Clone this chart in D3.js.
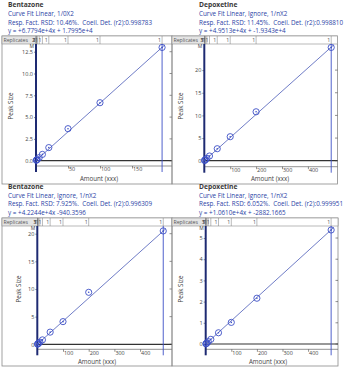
<!DOCTYPE html>
<html><head><meta charset="utf-8">
<script src="https://cdn.jsdelivr.net/npm/d3@7"></script>
<style>
html,body{margin:0;padding:0;background:#fff;}
svg{display:block;font-family:"Open Sans",sans-serif;}
</style></head><body>
<svg id="c" width="350" height="369"></svg>
<script>
// ---------- data ----------
const compoundNames = ["Bentazone", "Depoxetine", "Bentazone", "Depoxetine"];
const curveFitLabels = ["Curve Fit Linear, 1/0X2", "Curve Fit Linear, Ignore, 1/nX2", "Curve Fit Linear, Ignore, 1/nX2", "Curve Fit Linear, Ignore, 1/nX2"];
const rsdLabels = [
  "Resp. Fact. RSD: 10.46%.  Coeil. Det. (r2):0.998783",
  "Resp. Fact. RSD: 11.45%.  Coeil. Det. (r2):0.998810",
  "Resp. Fact. RSD: 7.925%.  Coell. Det. (r2):0.996309",
  "Resp. Fact. RSD: 6.052%.  Coeil. Det. (r2):0.999951"
];
const equationLabels = ["y = +6.7794e+4x + 1.7995e+4", "y = +4.9513e+4x + -1.9343e+4", "y = +4.2244e+4x -940.3596", "y = +1.0610e+4x + -2882.1665"];
const replicateCounts = ["2", "3", "3", "3"];

const amountsTL = [0.5, 1, 2, 5, 10, 20, 50, 100, 197];
const peakTL    = [0.05, 0.08, 0.15, 0.35, 0.72, 1.5, 3.67, 6.65, 12.99];
const amountsTR = [1, 2, 5, 10, 20, 50, 100, 200, 490];
const peakTR    = [0.06, 0.11, 0.27, 0.53, 1.04, 2.65, 5.3, 10.8, 25.0];
const amountsBL = [1, 2, 5, 10, 20, 50, 100, 200, 490];
const peakBL    = [0.03, 0.07, 0.2, 0.38, 0.8, 2.2, 4.1, 9.4, 20.5];
const amountsBR = [1, 2, 5, 10, 20, 50, 100, 200, 490];
const peakBR    = [0.01, 0.02, 0.05, 0.11, 0.22, 0.53, 1.02, 2.16, 5.38];

const fitSlopes = [0.0659, 0.0512, 0.0418, 0.0110];
const fitIntercepts = [0.018, -0.019, -0.001, -0.003];

const yTicksTL = [0, 2.5, 5, 7.5, 10, 12.5];
const yTicksTR = [0, 5, 10, 15, 20];
const yTicksBL = [0, 5, 10, 15, 20];
const yTicksBR = [0, 1, 2, 3, 4, 5];
const xTicksTL = [50, 100, 150];
const xTicksTR = [100, 200, 300, 400];
const xTicksBL = [100, 200, 300, 400];
const xTicksBR = [100, 200, 300, 400];
const yTickDecimals = [1, 0, 0, 0];
const unitLabel = "M";
const xAxisTitle = "Amount (xxx)";
const yAxisTitle = "Peak Size";
const replicatesLabel = "Replicates";

// ---------- layout ----------
const layouts = [
  {hx: 8,   hy: 7,     fx: 2,   fy: 36,  fb: 184, xr: [36, 172],    xd: [0, 212.5], yr: [166, 45],    yd: [-0.61, 13.27], px: 13,  py: 106, ax: 99,  ay: 180.5},
  {hx: 199, hy: 7,     fx: 172, fy: 36,  fb: 184, xr: [204.3, 337.5], xd: [0, 514.3], yr: [166.7, 45], yd: [-1.32, 25.54], px: 183, py: 106, ax: 270, ay: 180.5},
  {hx: 8,   hy: 188.8, fx: 2,   fy: 218, fb: 366, xr: [37.3, 172],  xd: [0, 524.1], yr: [349.3, 227], yd: [-0.904, 21.21], px: 21, py: 289, ax: 97,  ay: 363.5},
  {hx: 199, hy: 188.8, fx: 172, fy: 218, fb: 366, xr: [205.7, 338], xd: [0, 516.8], yr: [349.3, 227], yd: [-0.25, 5.52],  px: 183, py: 289, ax: 268, ay: 363.5}
];
const amounts = [amountsTL, amountsTR, amountsBL, amountsBR];
const peaks = [peakTL, peakTR, peakBL, peakBR];
const yTicks = [yTicksTL, yTicksTR, yTicksBL, yTicksBR];
const xTicks = [xTicksTL, xTicksTR, xTicksBL, xTicksBR];

const BLUE = "#3c4fc6", NAVY = "#1e2a72", TXT = "#2c3fa6", DARK = "#444";
const svg = d3.select("#c");

layouts.forEach((L, i) => {
  const g = svg.append("g");
  const x = d3.scaleLinear().domain(L.xd).range(L.xr);
  const y = d3.scaleLinear().domain(L.yd).range(L.yr);

  // header
  g.append("text").attr("x", L.hx).attr("y", L.hy).attr("font-size", 6.7).attr("font-weight", "bold")
    .attr("fill", "#3a3a3a").text(compoundNames[i]);
  [curveFitLabels[i], rsdLabels[i], equationLabels[i]].forEach((t, k) => {
    g.append("text").attr("x", L.hx).attr("y", L.hy + 8.8 * (k + 1)).attr("font-size", 6.3)
      .attr("fill", TXT).style("white-space", "pre").text(t);
  });

  // outer frame
  g.append("rect").attr("x", L.fx).attr("y", L.fy).attr("width", L.xr[1] - L.fx).attr("height", L.fb - L.fy)
    .attr("fill", "none").attr("stroke", "#8a8a8a").attr("stroke-width", 0.8);

  // replicates bar
  const barH = 8;
  g.append("rect").attr("x", L.fx).attr("y", L.fy).attr("width", L.xr[0] - L.fx).attr("height", barH)
    .attr("fill", "#e4e4e4").attr("stroke", "#8a8a8a").attr("stroke-width", 0.6);
  g.append("rect").attr("x", L.xr[0]).attr("y", L.fy).attr("width", L.xr[1] - L.xr[0]).attr("height", barH)
    .attr("fill", "#fff").attr("stroke", "#8a8a8a").attr("stroke-width", 0.6);
  g.append("text").attr("x", L.fx + 1.5).attr("y", L.fy + 6).attr("font-size", 5.2).attr("fill", "#555").text(replicatesLabel);
  g.append("text").attr("x", L.xr[0] - 1).attr("y", L.fy + 6).attr("font-size", 5.2).attr("fill", "#555")
    .attr("text-anchor", "end").text(replicateCounts[i]);
  amounts[i].forEach(a => {
    g.append("line").attr("x1", x(a)).attr("x2", x(a)).attr("y1", L.fy).attr("y2", L.fy + barH)
      .attr("stroke", "#777").attr("stroke-width", 0.5);
    g.append("text").attr("x", x(a) - 1).attr("y", L.fy + 6).attr("font-size", 5.2).attr("fill", "#555")
      .attr("text-anchor", "end").text("1");
  });

  // zero line & bottom line
  g.append("line").attr("x1", L.xr[0]).attr("x2", L.xr[1]).attr("y1", y(0)).attr("y2", y(0))
    .attr("stroke", "#333").attr("stroke-width", 1.2);
  g.append("line").attr("x1", L.xr[0]).attr("x2", L.xr[1]).attr("y1", L.yr[0]).attr("y2", L.yr[0])
    .attr("stroke", "#666").attr("stroke-width", 0.7);

  // y axis
  const fmt = d3.format("." + yTickDecimals[i] + "f");
  const ya = g.append("g").attr("transform", `translate(${L.xr[0]},0)`)
    .call(d3.axisLeft(y).tickValues(yTicks[i]).tickSize(2).tickPadding(1).tickFormat(fmt));
  ya.select(".domain").remove();
  ya.selectAll("line").attr("stroke", DARK).attr("stroke-width", 0.6);
  ya.selectAll("text").attr("font-size", 5.5).attr("fill", DARK).attr("font-family", "Open Sans");
  // right-side ticks
  g.selectAll(null).data(yTicks[i]).enter().append("line")
    .attr("x1", L.xr[1] - 2.5).attr("x2", L.xr[1]).attr("y1", d => y(d)).attr("y2", d => y(d))
    .attr("stroke", DARK).attr("stroke-width", 0.6);
  g.append("text").attr("x", L.xr[0] - 2).attr("y", L.fy + barH + 4.3).attr("font-size", 5).attr("fill", DARK)
    .attr("text-anchor", "end").text(unitLabel);

  // x axis
  const xa = g.append("g").attr("transform", `translate(0,${L.yr[0]})`)
    .call(d3.axisBottom(x).tickValues(xTicks[i]).tickSize(2.5).tickPadding(1));
  xa.select(".domain").remove();
  xa.selectAll("line").attr("stroke", DARK).attr("stroke-width", 0.6);
  xa.selectAll("text").attr("font-size", 5.4).attr("fill", DARK).attr("text-anchor", "start")
    .attr("dx", 0.5).attr("dy", "0.35em").attr("font-family", "Open Sans");

  // axis titles
  g.append("text").attr("x", L.ax).attr("y", L.ay).attr("text-anchor", "middle").attr("font-size", 6.2)
    .attr("fill", DARK).text(xAxisTitle);
  g.append("text").attr("transform", `translate(${L.px},${L.py}) rotate(-90)`).attr("text-anchor", "middle")
    .attr("font-size", 6.2).attr("fill", DARK).text(yAxisTitle);

  // left axis (thick)
  g.append("line").attr("x1", L.xr[0]).attr("x2", L.xr[0]).attr("y1", L.fy + barH).attr("y2", L.yr[0] + 6)
    .attr("stroke", NAVY).attr("stroke-width", 2);
  // right vertical marker at highest level
  const last = amounts[i][amounts[i].length - 1];
  g.append("line").attr("x1", x(last)).attr("x2", x(last)).attr("y1", L.fy + barH).attr("y2", L.yr[0] + 6)
    .attr("stroke", BLUE).attr("stroke-width", 0.9);

  // regression line
  const line = d3.line().x(d => x(d)).y(d => y(fitSlopes[i] * d + fitIntercepts[i]));
  g.append("path").attr("d", line([0, last * 1.02])).attr("fill", "none").attr("stroke", "#4a5ab8").attr("stroke-width", 0.8);

  // points
  const pts = amounts[i].map((a, k) => [a, peaks[i][k]]);
  g.selectAll(null).data(pts).enter().append("circle")
    .attr("cx", d => x(d[0])).attr("cy", d => y(d[1])).attr("r", 3.1)
    .attr("fill", "none").attr("stroke", BLUE).attr("stroke-width", 0.9);
  g.selectAll(null).data(pts).enter().append("circle")
    .attr("cx", d => x(d[0])).attr("cy", d => y(d[1])).attr("r", 0.8).attr("fill", BLUE);
});
</script></body></html>
